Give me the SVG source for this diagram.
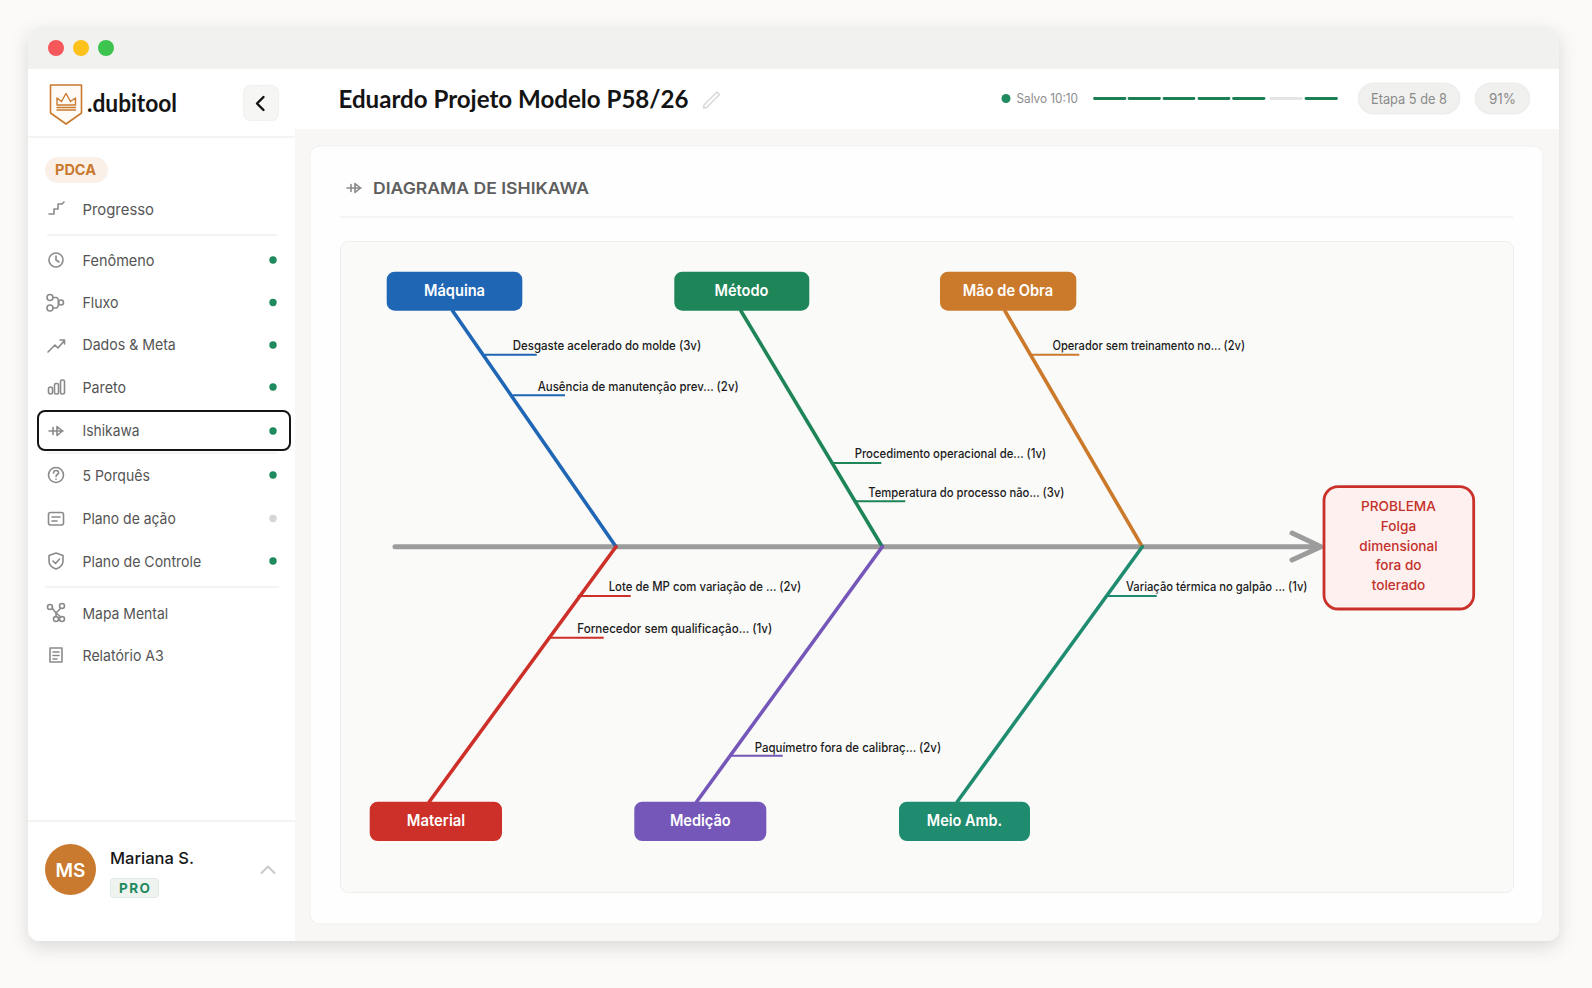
<svg xmlns="http://www.w3.org/2000/svg" xmlns:xlink="http://www.w3.org/1999/xlink" width="1592" height="988" viewBox="0 0 1592 988">
<style>
text{font-family:"Inter","Liberation Sans",sans-serif}
.nav{font-size:14.8px;fill:#555}
.ic{fill:none;stroke:#8a8a8a;stroke-width:1.6;stroke-linecap:round;stroke-linejoin:round}
.dot{fill:#1f8a5e}
.div{stroke:#f1f1ef;stroke-width:1.5;fill:none}
.seg{stroke:#1c7f54;stroke-width:2.8;stroke-linecap:round;fill:none}
.pill{fill:#f0f0ee;stroke:#ececea}
.pt{font-size:14px;fill:#8b8b8b;text-anchor:middle}
.cat{font-size:16px;font-weight:600;fill:#fff;text-anchor:middle}
.bone{stroke-width:3.6;fill:none;stroke-linecap:round}
.twig{stroke-width:2;fill:none}
.lbl{font-size:12.6px;font-weight:500;fill:#1c1c1c}
.prob{font-size:13.6px;font-weight:500;fill:#c4302b;text-anchor:middle}
.hd{font-family:"Lato","Liberation Sans",sans-serif;font-weight:700;fill:#141414}
</style>
<defs>
<filter id="sh" x="-5%" y="-5%" width="110%" height="112%"><feDropShadow dx="0" dy="6" stdDeviation="9" flood-color="#000" flood-opacity=".13"/></filter>
<clipPath id="win"><rect x="28" y="27" width="1531" height="914" rx="12"/></clipPath>
<g id="ishi-ic"><path d="M-7 0H7M-3-3.500V3.500M1-4.500V4.500L6.500 0Z" class="ic"/></g>
</defs>
<rect width="1592" height="988" fill="#fbfaf8"/>
<rect x="28" y="27" width="1531" height="914" rx="12" fill="#f8f7f5" filter="url(#sh)"/>
<g clip-path="url(#win)">
<rect x="28" y="27" width="1531" height="42" fill="#f1f1f0"/>
<rect x="295" y="69" width="1264" height="60" fill="#fff"/>
<rect x="28" y="69" width="267" height="872" fill="#fff"/>
</g>
<g id="traffic-lights"><circle cx="56" cy="48" r="8" fill="#f5575a"/><circle cx="81" cy="48" r="8" fill="#fcc11b"/><circle cx="106" cy="48" r="8" fill="#3cc44e"/></g>
<g id="logo">
<path d="M50.500 85H81.500V113L66 124L50.500 113Z" fill="#fffaf5" stroke="#c97a2e" stroke-width="1.600" stroke-linejoin="round"/>
<path d="M57 105L57 98L61.500 101.500L66 93.500L70.500 101.500L75.500 98L75.500 105ZM56.500 107.500H76M56.500 110H76" fill="none" stroke="#c97a2e" stroke-width="1.400" stroke-linejoin="round"/>
<text class="hd" x="87" y="112" font-size="25" textLength="90" lengthAdjust="spacingAndGlyphs">.dubitool</text>
</g>
<g id="collapse"><rect x="243.500" y="85.500" width="35" height="35" rx="7" fill="#f6f6f4" stroke="#f0f0ee"/><path d="M263.500 97L257 103.500L263.500 110" fill="none" stroke="#111" stroke-width="2.400" stroke-linecap="round" stroke-linejoin="round"/></g>
<path class="div" d="M28 137H295"/>
<g id="pdca"><rect x="45" y="157" width="63" height="26" rx="13" fill="#fbf0e8"/><text x="55" y="175" font-size="14.500" font-weight="700" fill="#c97a2e" textLength="41">PDCA</text></g>
<g id="nav-progresso"><path class="ic" d="M49 214H54V209H58V204H62L64 202"/><text class="nav" x="82.500" y="214.500" textLength="71.500" lengthAdjust="spacingAndGlyphs">Progresso</text></g>
<path class="div" d="M47 235H277"/>
<g id="nav-fenomeno"><circle class="ic" cx="56" cy="260" r="7"/><path class="ic" d="M56 256V260L59 262"/><text class="nav" x="82.500" y="265.500" textLength="72" lengthAdjust="spacingAndGlyphs">Fenômeno</text><circle class="dot" cx="273" cy="260" r="3.700"/></g>
<g id="nav-fluxo"><circle class="ic" cx="50" cy="297.500" r="3"/><circle class="ic" cx="50" cy="308" r="3"/><circle class="ic" cx="61" cy="302.500" r="2.500"/><path class="ic" d="M53 297.500H56Q58.500 297.500 58.500 302.500M53 308H56Q58.500 308 58.500 302.500"/><text class="nav" x="82.500" y="307.500" textLength="36" lengthAdjust="spacingAndGlyphs">Fluxo</text><circle class="dot" cx="273" cy="302.500" r="3.700"/></g>
<g id="nav-dados"><path class="ic" d="M48 352L55 345L58 348L64 341M60 340H64.500V344"/><text class="nav" x="82.500" y="350" textLength="93.300" lengthAdjust="spacingAndGlyphs">Dados &amp; Meta</text><circle class="dot" cx="273" cy="345" r="3.700"/></g>
<g id="nav-pareto"><rect class="ic" x="48.500" y="387" width="4" height="7" rx="2"/><rect class="ic" x="54.500" y="383.500" width="4" height="10.500" rx="1.500"/><rect class="ic" x="60.500" y="380" width="4" height="14" rx="1.500"/><text class="nav" x="82.500" y="392.500" textLength="43.500" lengthAdjust="spacingAndGlyphs">Pareto</text><circle class="dot" cx="273" cy="387" r="3.700"/></g>
<g id="nav-ishikawa"><rect x="38" y="411" width="252" height="39" rx="7" fill="#fff" stroke="#141414" stroke-width="2"/><use xlink:href="#ishi-ic" x="56" y="431"/><text class="nav" x="82.500" y="436" textLength="57" lengthAdjust="spacingAndGlyphs">Ishikawa</text><circle class="dot" cx="273" cy="431" r="3.700"/></g>
<path class="div" d="M47 453H277"/>
<g id="nav-porques"><circle class="ic" cx="56" cy="475" r="7.500"/><path class="ic" d="M53.500 473Q54 470 56.500 470.500Q59 471 58.500 473.500Q56 475 56 476.500M56 479V479.300"/><text class="nav" x="82.500" y="480.500" textLength="67.300" lengthAdjust="spacingAndGlyphs">5 Porquês</text><circle class="dot" cx="273" cy="475" r="3.700"/></g>
<g id="nav-plano"><rect class="ic" x="48.500" y="512.500" width="15" height="12.500" rx="2"/><path class="ic" d="M52 517H60M52 521H57"/><text class="nav" x="82.500" y="523.500" textLength="93.300" lengthAdjust="spacingAndGlyphs">Plano de ação</text><circle cx="273" cy="518.500" r="3.700" fill="#d6d6d6"/></g>
<g id="nav-controle"><path class="ic" d="M56 553L63 555.500V561Q63 566.500 56 569Q49 566.500 49 561V555.500ZM53 561L55.500 563.500L59.500 559"/><text class="nav" x="82.500" y="566.500" textLength="118.700" lengthAdjust="spacingAndGlyphs">Plano de Controle</text><circle class="dot" cx="273" cy="561" r="3.700"/></g>
<path class="div" d="M45 587H279"/>
<g id="nav-mapa"><circle class="ic" cx="50" cy="607" r="2.500"/><circle class="ic" cx="62" cy="606" r="2.500"/><circle class="ic" cx="56" cy="619" r="2.500"/><circle class="ic" cx="62" cy="619" r="2.500"/><path class="ic" d="M52 608L56 613L61 608M56 613V617M56 613L61 617"/><text class="nav" x="82.500" y="618.500" textLength="85.700" lengthAdjust="spacingAndGlyphs">Mapa Mental</text></g>
<g id="nav-relatorio"><path class="ic" d="M50 648H62V662H50ZM53 652H59M53 655.500H59M53 659H57"/><text class="nav" x="82.500" y="660.500" textLength="81.300" lengthAdjust="spacingAndGlyphs">Relatório A3</text></g>
<path class="div" d="M28 821H295"/>
<g id="user">
<circle cx="70.500" cy="869.500" r="25.500" fill="#c97a2e"/><text x="70.500" y="876.500" font-size="19" font-weight="600" fill="#fff" text-anchor="middle">MS</text>
<text x="110" y="864" font-size="16.500" font-weight="500" fill="#151515">Mariana S.</text>
<rect x="110.500" y="878.500" width="48" height="19" rx="3" fill="#eef3f0" stroke="#e2e8e4"/><text x="119" y="893" font-size="13.500" font-weight="700" fill="#1f8a5e" textLength="31">PRO</text>
<path d="M261.500 873L268 866.500L274.500 873" fill="none" stroke="#c9c9c9" stroke-width="2" stroke-linecap="round" stroke-linejoin="round"/>
</g>
<g id="title"><text class="hd" x="338.500" y="107.500" font-size="25" textLength="350" lengthAdjust="spacingAndGlyphs">Eduardo Projeto Modelo P58/26</text><path d="M704 105L717 92L719.500 94.500L706.500 107.500L703.500 108Z" fill="none" stroke="#d8d8d8" stroke-width="1.500" stroke-linejoin="round"/></g>
<g id="status">
<circle cx="1006" cy="98.500" r="4.500" fill="#1f8a5e"/><text x="1016.500" y="103" font-size="12.800" fill="#8b8b8b" textLength="61.500" lengthAdjust="spacingAndGlyphs">Salvo 10:10</text>
<path class="seg" d="M1094.500 98.500H1125M1129 98.500H1159.500M1164 98.500H1194M1199 98.500H1229M1233.500 98.500H1264M1306 98.500H1336.500"/>
<path d="M1271 98.500H1301.500" stroke="#e5e5e4" stroke-width="2.800" stroke-linecap="round"/>
<rect class="pill" x="1358" y="83" width="102" height="31" rx="15.500"/><text class="pt" x="1409" y="103.500" textLength="76" lengthAdjust="spacingAndGlyphs">Etapa 5 de 8</text>
<rect class="pill" x="1475" y="83" width="55" height="31" rx="15.500"/><text class="pt" x="1502.500" y="103.500" textLength="27" lengthAdjust="spacingAndGlyphs">91%</text>
</g>
<g id="card">
<rect x="310" y="146" width="1233" height="778" rx="10" fill="#fefefe" stroke="#f1f1ef"/>
<use xlink:href="#ishi-ic" x="354" y="188"/>
<text x="373" y="194" font-size="16.200" font-weight="600" fill="#5e5e5e" textLength="216" lengthAdjust="spacingAndGlyphs">DIAGRAMA DE ISHIKAWA</text>
<path class="div" d="M340 217H1513"/>
<rect x="340.500" y="241.500" width="1173" height="651" rx="8" fill="#fafaf9" stroke="#eeeeec"/>
</g>
<g id="connectors">
<path d="M395 546.700H1320M1292 533L1321 546.700L1292 560" fill="none" stroke="#9c9c9c" stroke-width="5" stroke-linecap="round" stroke-linejoin="round"/>
<g stroke="#1f66b5"><path class="bone" d="M452.700 311L616 546.700"/><path class="twig" d="M485 354.700H536.700M512.700 395.300H565"/></g>
<g stroke="#1e8559"><path class="bone" d="M741 311L882.300 546.700"/><path class="twig" d="M830.700 463H881.300M855 501.300H905.300"/></g>
<g stroke="#cb7a2c"><path class="bone" d="M1005 311L1142.300 546.700"/><path class="twig" d="M1029.300 354.700H1079.300"/></g>
<g stroke="#cc3028"><path class="bone" d="M616 546.700L429.300 801.700"/><path class="twig" d="M577.700 596H630.700M547.700 637.700H603.700"/></g>
<g stroke="#7556b9"><path class="bone" d="M882.300 546.700L696.700 801.700"/><path class="twig" d="M730 755.700H782.700"/></g>
<g stroke="#1f8c70"><path class="bone" d="M1142.300 546.700L957.300 801.700"/><path class="twig" d="M1105 596H1156.700"/></g>
</g>
<g id="node-maquina"><rect x="386.700" y="271.700" width="135.600" height="39" rx="8" fill="#1f66b5"/><text class="cat" x="454.500" y="296" textLength="61" lengthAdjust="spacingAndGlyphs">Máquina</text></g>
<g id="node-metodo"><rect x="674.300" y="271.700" width="135" height="39" rx="8" fill="#1e8559"/><text class="cat" x="741.500" y="296" textLength="54" lengthAdjust="spacingAndGlyphs">Método</text></g>
<g id="node-maodeobra"><rect x="940" y="271.700" width="136.300" height="39" rx="8" fill="#cb7a2c"/><text class="cat" x="1008" y="296" textLength="90.300" lengthAdjust="spacingAndGlyphs">Mão de Obra</text></g>
<g id="node-material"><rect x="369.700" y="801.700" width="132.300" height="39.300" rx="8" fill="#cc3028"/><text class="cat" x="436" y="826" textLength="58.300" lengthAdjust="spacingAndGlyphs">Material</text></g>
<g id="node-medicao"><rect x="634.300" y="801.700" width="132" height="39.300" rx="8" fill="#7556b9"/><text class="cat" x="700.300" y="826" textLength="60.700" lengthAdjust="spacingAndGlyphs">Medição</text></g>
<g id="node-meio"><rect x="899" y="801.700" width="131" height="39.300" rx="8" fill="#1f8c70"/><text class="cat" x="964.500" y="826" textLength="75.300" lengthAdjust="spacingAndGlyphs">Meio Amb.</text></g>
<g id="causes">
<text class="lbl" x="512.700" y="350" textLength="188.500" lengthAdjust="spacingAndGlyphs">Desgaste acelerado do molde (3v)</text>
<text class="lbl" x="537.700" y="391" textLength="201" lengthAdjust="spacingAndGlyphs">Ausência de manutenção prev... (2v)</text>
<text class="lbl" x="854.700" y="458.300" textLength="191.500" lengthAdjust="spacingAndGlyphs">Procedimento operacional de... (1v)</text>
<text class="lbl" x="868.300" y="497" textLength="196" lengthAdjust="spacingAndGlyphs">Temperatura do processo não... (3v)</text>
<text class="lbl" x="1052.500" y="350" textLength="192.500" lengthAdjust="spacingAndGlyphs">Operador sem treinamento no... (2v)</text>
<text class="lbl" x="608.700" y="591.300" textLength="192.500" lengthAdjust="spacingAndGlyphs">Lote de MP com variação de ... (2v)</text>
<text class="lbl" x="577.300" y="633" textLength="195" lengthAdjust="spacingAndGlyphs">Fornecedor sem qualificação... (1v)</text>
<text class="lbl" x="754.700" y="751.700" textLength="186.500" lengthAdjust="spacingAndGlyphs">Paquímetro fora de calibraç... (2v)</text>
<text class="lbl" x="1126" y="591.300" textLength="181.500" lengthAdjust="spacingAndGlyphs">Variação térmica no galpão ... (1v)</text>
</g>
<g id="node-problema">
<rect x="1324" y="486.700" width="149.700" height="122.300" rx="14" fill="#fdf0ef" stroke="#c9302a" stroke-width="2.800"/>
<text class="prob" x="1398.500" y="511">PROBLEMA</text><text class="prob" x="1398.500" y="530.500">Folga</text><text class="prob" x="1398.500" y="550.500">dimensional</text><text class="prob" x="1398.500" y="570">fora do</text><text class="prob" x="1398.500" y="590">tolerado</text>
</g>
</svg>
